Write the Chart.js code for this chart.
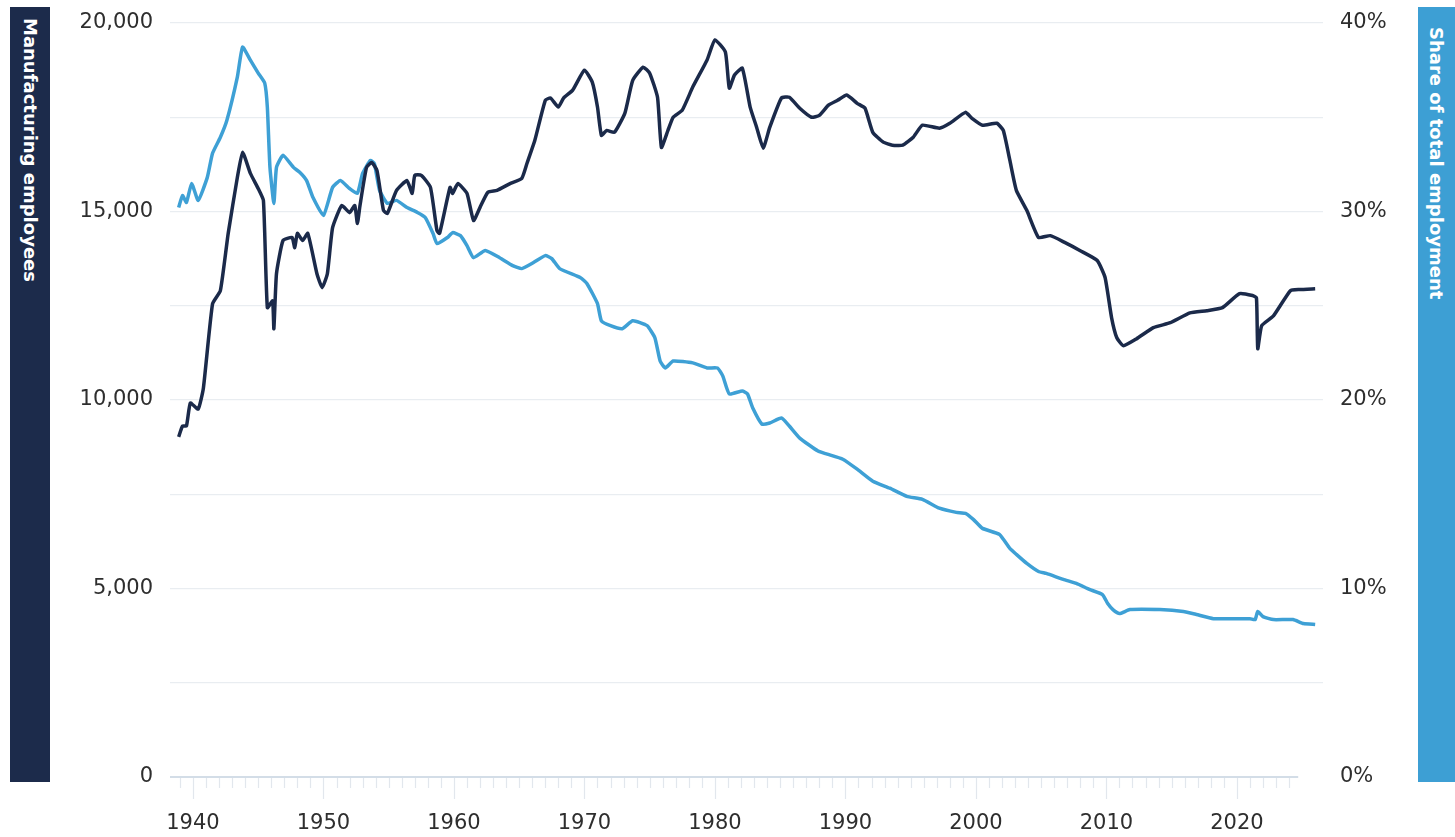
<!DOCTYPE html>
<html>
<head>
<meta charset="utf-8">
<script src="https://cdn.jsdelivr.net/npm/chart.js@4.4.1/dist/chart.umd.min.js"></script>
<style>
  html, body { margin: 0; padding: 0; background: #ffffff; }
  body { width: 1455px; height: 837px; position: relative; overflow: hidden; font-family: "DejaVu Sans", sans-serif; }
  #wrap { position: absolute; left: 0; top: 0; width: 1455px; height: 837px; }
  .side { position: absolute; top: 7px; height: 775px; color: #ffffff; font-weight: 700; font-size: 18px;
          writing-mode: vertical-rl; display: flex; align-items: center; justify-content: flex-start;
          font-family: "DejaVu Sans", sans-serif; box-sizing: border-box; }
  #leftBox { left: 10px; width: 40px; background: #1c2b4b; padding-top: 11px; }
  #rightBox { left: 1418px; width: 37px; background: #3d9fd4; padding-top: 20px; }
</style>
</head>
<body>
<div id="wrap"><canvas id="c"></canvas></div>
<div class="side" id="leftBox">Manufacturing employees</div>
<div class="side" id="rightBox">Share of total employment</div>
<script>
// ---- Data ----
const xTickYears = [1940, 1950, 1960, 1970, 1980, 1990, 2000, 2010, 2020];
const yLeftTicks = [0, 5000, 10000, 15000, 20000];
const yRightTicks = [0, 10, 20, 30, 40];

// Manufacturing employees (thousands)
const empYears = [1938.9,1939.2,1939.5,1939.8,1940.4,1940.8,1941.5,1942.1,1942.7,1943.4,1943.8,1944.4,1945.0,1945.4,1945.7,1946.1,1946.2,1946.4,1946.9,1947.6,1947.8,1948.0,1948.4,1948.8,1949.5,1949.9,1950.3,1950.7,1951.4,1952.0,1952.4,1952.6,1952.8,1953.3,1953.7,1954.1,1954.6,1954.9,1955.6,1956.4,1956.8,1957.0,1957.5,1958.2,1958.7,1958.9,1959.7,1959.9,1960.3,1961.0,1961.5,1962.0,1962.6,1963.3,1964.3,1965.2,1965.6,1966.2,1967.0,1967.4,1968.0,1968.4,1969.1,1970.0,1970.6,1971.0,1971.3,1971.7,1972.3,1973.1,1973.7,1974.5,1975.0,1975.6,1975.9,1976.4,1976.8,1977.5,1978.3,1979.4,1980.0,1980.8,1981.1,1981.5,1982.1,1982.7,1983.2,1983.7,1984.2,1985.1,1985.7,1986.5,1987.4,1988.0,1988.7,1989.4,1990.1,1990.9,1991.5,1992.1,1992.9,1993.6,1994.4,1995.2,1995.9,1997.2,1998.0,1999.2,1999.7,2000.5,2001.6,2002.1,2002.6,2003.1,2003.9,2004.8,2005.7,2006.8,2008.0,2009.3,2009.9,2010.4,2010.8,2011.3,2012.3,2013.6,2014.9,2016.4,2017.7,2018.9,2020.2,2021.2,2021.5,2021.6,2021.9,2022.8,2024.1,2024.8,2026.0];
const empValues = [9020,9310,9310,9920,9760,10320,12550,12900,14420,15900,16570,16010,15610,15290,12450,12630,11890,13350,14230,14310,14040,14420,14230,14420,13350,12980,13350,14570,15160,14970,15160,14680,15160,16170,16300,16090,15030,14950,15560,15820,15480,15960,15960,15640,14490,14420,15640,15480,15740,15480,14760,15110,15510,15560,15740,15880,16280,16890,17950,18010,17770,18010,18220,18750,18430,17770,17020,17150,17100,17610,18480,18830,18670,18030,16700,17150,17500,17690,18300,19020,19550,19230,18270,18620,18800,17770,17230,16680,17230,18010,18030,17740,17500,17550,17820,17950,18090,17870,17740,17100,16840,16760,16760,16970,17290,17210,17340,17630,17470,17290,17340,17150,16360,15560,15030,14310,14360,14180,13960,13700,13250,12180,11650,11440,11620,11920,12050,12310,12370,12450,12820,12770,12710,11360,11970,12230,12900,12930,12950];

// Share of total employment (%)
const shareYears = [1938.9,1939.2,1939.5,1939.9,1940.4,1941.1,1941.5,1942.1,1942.6,1943.4,1943.8,1944.4,1945.0,1945.5,1945.7,1945.9,1946.2,1946.4,1946.9,1947.7,1948.2,1948.7,1949.2,1950.0,1950.7,1951.3,1952.0,1952.6,1953.0,1953.6,1953.9,1954.3,1954.9,1955.6,1956.4,1957.2,1957.8,1958.4,1958.7,1959.5,1959.9,1960.5,1961.0,1961.5,1962.4,1963.5,1964.5,1965.2,1966.1,1967.0,1967.5,1968.1,1969.7,1970.2,1971.0,1971.3,1972.0,1972.9,1973.7,1974.8,1975.4,1975.8,1976.2,1976.8,1978.3,1979.4,1980.2,1980.6,1981.1,1982.1,1982.5,1982.9,1983.6,1984.2,1985.1,1985.7,1986.5,1987.9,1988.6,1989.8,1990.9,1992.1,1993.4,1994.7,1995.9,1997.2,1998.5,1999.2,1999.8,2000.5,2001.8,2002.6,2003.1,2003.9,2004.8,2005.4,2006.7,2007.7,2008.7,2009.7,2010.1,2010.5,2011.0,2011.8,2014.1,2015.9,2016.9,2018.2,2021.0,2021.4,2021.6,2022.0,2022.8,2024.3,2025.1,2026.0];
const shareValues = [30.21,30.85,30.48,31.49,30.59,31.81,33.09,33.94,34.84,37.13,38.72,38.03,37.34,36.81,35.53,32.34,30.43,32.34,32.98,32.34,32.07,31.65,30.74,29.79,31.28,31.65,31.22,30.96,32.02,32.71,32.55,31.12,30.43,30.59,30.21,29.95,29.68,28.83,28.30,28.62,28.88,28.72,28.19,27.55,27.93,27.55,27.13,26.97,27.29,27.66,27.50,26.97,26.49,26.17,25.11,24.20,23.94,23.78,24.20,23.94,23.30,22.07,21.70,22.07,21.97,21.70,21.70,21.28,20.32,20.48,20.32,19.57,18.72,18.78,19.04,18.62,17.98,17.29,17.13,16.86,16.33,15.69,15.32,14.89,14.73,14.26,14.04,13.99,13.67,13.19,12.87,12.13,11.81,11.33,10.90,10.80,10.48,10.27,9.95,9.68,9.20,8.88,8.67,8.88,8.88,8.78,8.62,8.40,8.40,8.35,8.78,8.51,8.35,8.35,8.14,8.09];

const minorTickFrom = 1939, minorTickTo = 2024, axisLineEnd = 2024.7;
const xMin = 1938.24, xMax = 2026.6;

const empPoints = empYears.map((x, i) => ({ x: x, y: empValues[i] }));
const sharePoints = shareYears.map((x, i) => ({ x: x, y: shareValues[i] }));

const labelFont = { family: "'DejaVu Sans', sans-serif", size: 21 };
const labelColor = '#2e2e2e';

const bottomAxisPlugin = {
  id: 'bottomAxis',
  afterDatasetsDraw(chart) {
    const ctx = chart.ctx, xs = chart.scales.x, yl = chart.scales.yLeft;
    const y0 = yl.getPixelForValue(0);
    ctx.save();
    ctx.strokeStyle = '#d3dde7';
    ctx.lineWidth = 2;
    ctx.beginPath();
    ctx.moveTo(chart.chartArea.left, y0);
    ctx.lineTo(xs.getPixelForValue(axisLineEnd), y0);
    ctx.stroke();
    ctx.strokeStyle = '#e2e7ed';
    ctx.lineWidth = 1.2;
    for (let yr = minorTickFrom; yr <= minorTickTo; yr++) {
      const px = Math.round(xs.getPixelForValue(yr)) + 0.5;
      const len = (yr % 10 === 0) ? 22 : 11;
      ctx.beginPath();
      ctx.moveTo(px, y0 + 1);
      ctx.lineTo(px, y0 + len);
      ctx.stroke();
    }
    ctx.restore();
  }
};

const noVPad = (s, w) => { s.width = w; s.paddingTop = 0; s.paddingBottom = 0; };

new Chart(document.getElementById('c'), {
  type: 'line',
  data: {
    datasets: [
      { label: 'Manufacturing employees', data: empPoints, yAxisID: 'yLeft',
        borderColor: '#1b2a4a', borderWidth: 3.5, pointRadius: 0, tension: 0.15, fill: false },
      { label: 'Share of total employment', data: sharePoints, yAxisID: 'yRight',
        borderColor: '#3ea0d5', borderWidth: 3.5, pointRadius: 0, tension: 0.15, fill: false }
    ]
  },
  options: {
    responsive: true,
    maintainAspectRatio: false,
    animation: false,
    layout: { padding: { left: 60, right: 50, top: 23, bottom: 0 } },
    plugins: { legend: { display: false }, tooltip: { enabled: false } },
    scales: {
      x: {
        type: 'linear', min: xMin, max: xMax,
        afterBuildTicks: (s) => { s.ticks = xTickYears.map(v => ({ value: v })); },
        afterFit: (s) => { s.height = 60; s.paddingLeft = 0; s.paddingRight = 0; },
        border: { display: false },
        grid: { display: false, drawTicks: false },
        ticks: { padding: 34, font: labelFont, color: labelColor, maxRotation: 0,
                 callback: (v) => String(v) }
      },
      yLeft: {
        position: 'left', min: 0, max: 20000,
        afterBuildTicks: (s) => { const t = []; for (let v = 0; v <= 20000; v += 2500) t.push({ value: v }); s.ticks = t; },
        afterFit: (s) => noVPad(s, 110),
        border: { display: false },
        grid: { drawTicks: false, lineWidth: 1.3,
                color: (c) => c.tick && c.tick.value === 0 ? 'rgba(0,0,0,0)' : '#e9edf1' },
        ticks: { padding: 17, font: labelFont, color: labelColor,
                 callback: (v) => yLeftTicks.includes(v) ? v.toLocaleString('en-US') : '' }
      },
      yRight: {
        position: 'right', min: 0, max: 40,
        afterBuildTicks: (s) => { const t = []; for (let v = 0; v <= 40; v += 5) t.push({ value: v }); s.ticks = t; },
        afterFit: (s) => noVPad(s, 82),
        border: { display: false },
        grid: { display: false, drawTicks: false },
        ticks: { padding: 17, font: labelFont, color: labelColor,
                 callback: (v) => yRightTicks.includes(v) ? v + '%' : '' }
      }
    }
  },
  plugins: [bottomAxisPlugin]
});
</script>
</body>
</html>
